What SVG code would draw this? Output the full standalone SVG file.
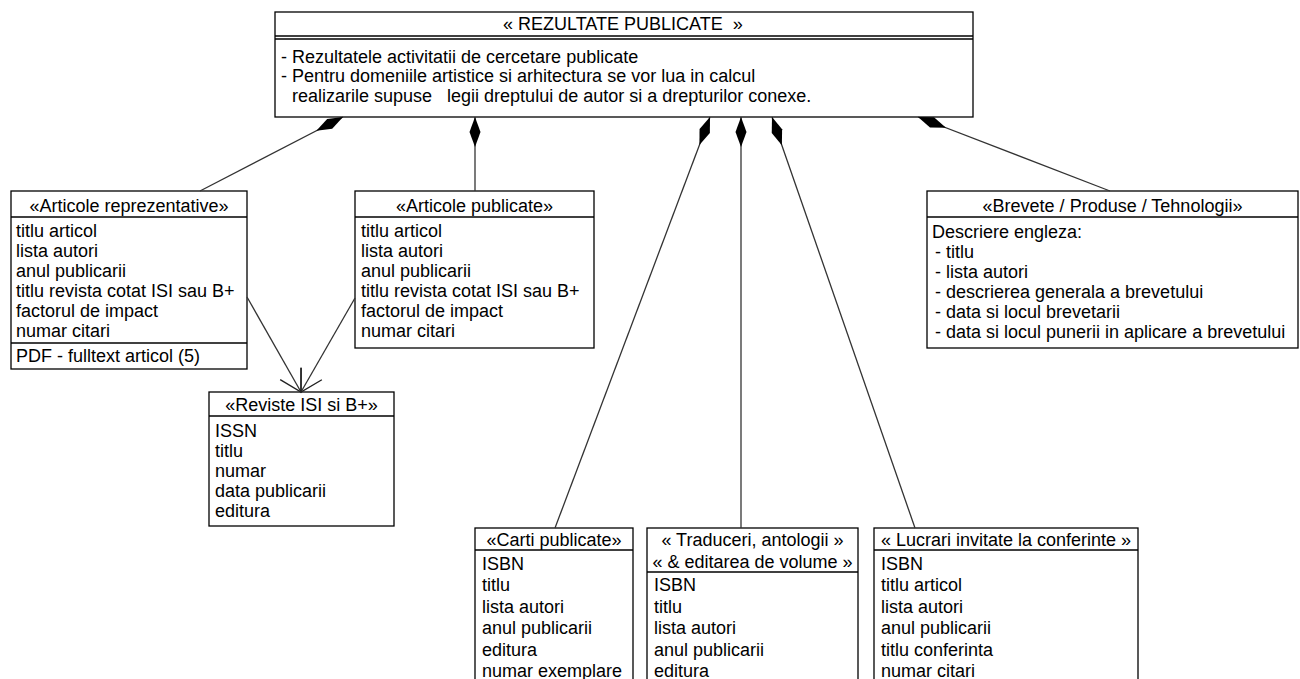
<svg xmlns="http://www.w3.org/2000/svg" width="1300" height="679" viewBox="0 0 1300 679">
<style>
.box{fill:#fff;stroke:#000;stroke-width:1.3}
.sep{stroke:#000;stroke-width:1.3;fill:none}
text{font-family:"Liberation Sans",Arial,sans-serif;font-size:18px;fill:#000}
.c{text-anchor:middle}
.conn{stroke:#333;stroke-width:1.3;fill:none}
.comp{marker-start:url(#diamond)}
.dep{marker-end:url(#open)}
</style>
<defs>
<marker id="diamond" markerUnits="userSpaceOnUse" orient="auto" overflow="visible" refX="0" refY="0" markerWidth="30" markerHeight="12"><path d="M0,0 L15,-5.5 L30,0 L15,5.5 Z" fill="#000"/></marker>
<marker id="open" markerUnits="userSpaceOnUse" orient="auto" overflow="visible" refX="0" refY="0" markerWidth="22" markerHeight="24"><path d="M-21,-12 L0,0 L-21,12" fill="none" stroke="#222" stroke-width="1.4"/></marker>
</defs>
<rect width="1300" height="679" fill="#fff"/>

<g id="rezultate-publicate">
<rect class="box" x="275" y="12" width="698" height="105"/>
<line class="sep" x1="275" y1="36" x2="973" y2="36"/>
<line class="sep" x1="275" y1="39" x2="973" y2="39"/>
<text x="503" y="30" xml:space="preserve">« REZULTATE PUBLICATE  »</text>
<text x="281" y="63">- Rezultatele activitatii de cercetare publicate</text>
<text x="281" y="82">- Pentru domeniile artistice si arhitectura se vor lua in calcul</text>
<text x="287" y="102" xml:space="preserve"> realizarile supuse   legii dreptului de autor si a drepturilor conexe.</text>
</g>

<g id="articole-reprezentative">
<rect class="box" x="11" y="191" width="236" height="178"/>
<line class="sep" x1="11" y1="217" x2="247" y2="217"/>
<text class="c" x="129" y="212">«Articole reprezentative»</text>
<text x="16" y="237">titlu articol</text>
<text x="16" y="257">lista autori</text>
<text x="16" y="277">anul publicarii</text>
<text x="16" y="297">titlu revista cotat ISI sau B+</text>
<text x="16" y="317">factorul de impact</text>
<text x="16" y="337">numar citari</text>
<line class="sep" x1="11" y1="343" x2="247" y2="343"/>
<text x="16" y="362">PDF - fulltext articol (5)</text>
</g>

<g id="articole-publicate">
<rect class="box" x="355" y="191" width="239" height="157"/>
<line class="sep" x1="355" y1="217" x2="594" y2="217"/>
<text class="c" x="474.5" y="212">«Articole publicate»</text>
<text x="361" y="237">titlu articol</text>
<text x="361" y="257">lista autori</text>
<text x="361" y="277">anul publicarii</text>
<text x="361" y="297">titlu revista cotat ISI sau B+</text>
<text x="361" y="317">factorul de impact</text>
<text x="361" y="337">numar citari</text>
</g>

<g id="reviste">
<rect class="box" x="209" y="392" width="185" height="134"/>
<line class="sep" x1="209" y1="416" x2="394" y2="416"/>
<text class="c" x="301.5" y="411">«Reviste ISI si B+»</text>
<text x="215" y="437">ISSN</text>
<text x="215" y="457">titlu</text>
<text x="215" y="477">numar</text>
<text x="215" y="497">data publicarii</text>
<text x="215" y="517">editura</text>
</g>

<g id="brevete">
<rect class="box" x="927" y="191" width="371" height="157"/>
<line class="sep" x1="927" y1="217" x2="1298" y2="217"/>
<text class="c" x="1112.5" y="212">«Brevete / Produse / Tehnologii»</text>
<text x="932" y="238">Descriere engleza:</text>
<text x="935" y="258">- titlu</text>
<text x="935" y="278">- lista autori</text>
<text x="935" y="298">- descrierea generala a brevetului</text>
<text x="935" y="318">- data si locul brevetarii</text>
<text x="935" y="338">- data si locul punerii in aplicare a brevetului</text>
</g>

<g id="carti-publicate">
<rect class="box" x="475" y="528" width="158" height="170"/>
<line class="sep" x1="475" y1="550" x2="633" y2="550"/>
<text class="c" x="554" y="546">«Carti publicate»</text>
<text x="482" y="569.5">ISBN</text>
<text x="482" y="591">titlu</text>
<text x="482" y="612.5">lista autori</text>
<text x="482" y="634">anul publicarii</text>
<text x="482" y="655.5">editura</text>
<text x="482" y="677">numar exemplare</text>
</g>

<g id="traduceri">
<rect class="box" x="647" y="528" width="211" height="170"/>
<line class="sep" x1="647" y1="572" x2="858" y2="572"/>
<text class="c" x="752.5" y="546">« Traduceri, antologii »</text>
<text class="c" x="752.5" y="567.5">« &amp; editarea de volume »</text>
<text x="654" y="591">ISBN</text>
<text x="654" y="612.5">titlu</text>
<text x="654" y="634">lista autori</text>
<text x="654" y="655.5">anul publicarii</text>
<text x="654" y="677">editura</text>
</g>

<g id="lucrari-invitate">
<rect class="box" x="874" y="528" width="264" height="170"/>
<line class="sep" x1="874" y1="550" x2="1138" y2="550"/>
<text class="c" x="1006" y="546">« Lucrari invitate la conferinte »</text>
<text x="881" y="569.5">ISBN</text>
<text x="881" y="591">titlu articol</text>
<text x="881" y="612.5">lista autori</text>
<text x="881" y="634">anul publicarii</text>
<text x="881" y="655.5">titlu conferinta</text>
<text x="881" y="677">numar citari</text>
</g>

<g id="connectors">
<path class="conn comp" d="M343,117 L200,191"/>
<path class="conn comp" d="M475,117 L475,191"/>
<path class="conn comp" d="M710,117 L555,528"/>
<path class="conn comp" d="M741,117 L741,528"/>
<path class="conn comp" d="M772,117 L915,528"/>
<path class="conn comp" d="M918,117 L1110,191"/>
<path class="conn dep" d="M247,297 L301,392"/>
<path class="conn dep" d="M355,298 L301,392"/>
</g>
</svg>
